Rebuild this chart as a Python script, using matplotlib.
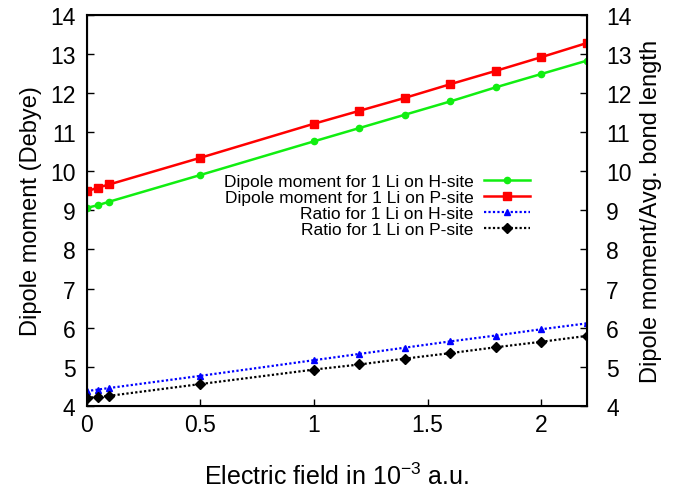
import matplotlib as mpl
mpl.use('Agg')
import matplotlib.pyplot as plt

plt.rcParams['font.family'] = ['Liberation Sans', 'DejaVu Sans']
plt.rcParams['mathtext.default'] = 'regular'

# electric field (10^-3 a.u.)
field = [0.0, 0.05, 0.1, 0.5, 1.0, 1.2, 1.4, 1.6, 1.8, 2.0, 2.2]
# dipole moment (Debye)
dip_h = [9.06, 9.13, 9.22, 9.90, 10.76, 11.10, 11.44, 11.78, 12.14, 12.48, 12.82]
dip_p = [9.48, 9.58, 9.66, 10.34, 11.21, 11.54, 11.87, 12.22, 12.56, 12.91, 13.27]
# dipole moment / avg. bond length
ratio_h = [4.38, 4.42, 4.46, 4.77, 5.17, 5.33, 5.49, 5.65, 5.80, 5.96, 6.11]
ratio_p = [4.20, 4.24, 4.26, 4.56, 4.93, 5.06, 5.21, 5.35, 5.50, 5.64, 5.79]

xticks = [0, 0.5, 1, 1.5, 2]
xticklabels = ['0', '0.5', '1', '1.5', '2']
yticks = list(range(4, 15))

fig = plt.figure(figsize=(6.77, 4.89), dpi=100)
ax = fig.add_axes([0.128, 0.1677, 0.7386, 0.8006])

ax.plot(field, dip_h, color='#11ee11', lw=1.8, marker='o', ms=4.5,
        label='Dipole moment for 1 Li on H-site')
ax.plot(field, dip_p, color='#ff0000', lw=1.8, marker='s', ms=5.5,
        label='Dipole moment for 1 Li on P-site')
ax.plot(field, ratio_h, color='#0000ff', lw=1.6, ls=(0, (1, 1)), marker='^', ms=4,
        label='Ratio for 1 Li on H-site')
ax.plot(field, ratio_p, color='black', lw=1.6, ls=(0, (1, 1)), marker='D', ms=5,
        label='Ratio for 1 Li on P-site')

ax.set_xlim(0, 2.2)
ax.set_ylim(4, 14)
ax.set_xticks(xticks)
ax.set_xticklabels(xticklabels)
ax.set_yticks(yticks)
for s in ax.spines.values():
    s.set_linewidth(1.5)
ax.tick_params(axis='x', direction='in', length=5, width=1, labelsize=16.5, pad=5,
               top=False)
ax.tick_params(axis='y', direction='in', length=5, width=1, labelsize=16.5, pad=8,
               right=False)

ax2 = ax.twinx()
ax2.set_ylim(4, 14)
ax2.set_yticks(yticks)
ax2.tick_params(direction='in', length=5, width=1, labelsize=16.5, pad=14)

ax.set_xlabel('Electric field in 10$^{-3}$ a.u.', fontsize=18, labelpad=19)
ax.set_ylabel('Dipole moment (Debye)', fontsize=17, labelpad=6)
ax2.set_ylabel('Dipole moment/Avg. bond length', fontsize=17, labelpad=6)

ax.legend(loc='upper right', bbox_to_anchor=(530 / 677, 1 - 175 / 489),
          bbox_transform=fig.transFigure, frameon=False, markerfirst=False,
          fontsize=12.5, handlelength=2.65, labelspacing=0.05, borderpad=0,
          borderaxespad=0, handletextpad=0.6)

fig.savefig('out.png', dpi=100)
